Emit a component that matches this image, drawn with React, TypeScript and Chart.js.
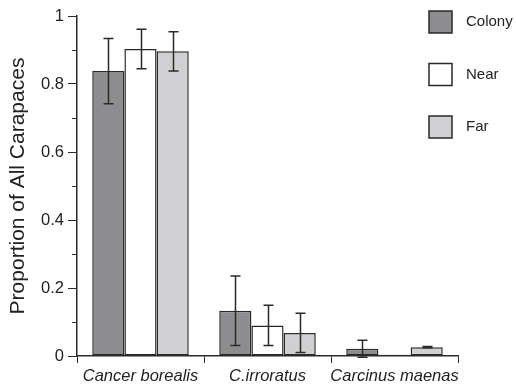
import React, { useEffect, useRef } from "react";
import { Chart, registerables } from "chart.js";

Chart.register(...registerables);

const categories = ["Cancer borealis", "C.irroratus", "Carcinus maenas"];
const seriesNames = ["Colony", "Near", "Far"];
const colonyValues = [0.838, 0.133, 0.021];
const colonyErrors = [0.096, 0.102, 0.025];
const nearValues = [0.903, 0.09, 0.004];
const nearErrors = [0.058, 0.059, 0];
const farValues = [0.896, 0.068, 0.026];
const farErrors = [0.058, 0.058, 0.002];
const yTickValues = [0, 0.2, 0.4, 0.6, 0.8, 1];
const yMinorTicks = [0.1, 0.3, 0.5, 0.7, 0.9];
const yTitle = "Proportion of All Carapaces";

const FONT = "'Liberation Sans', Arial, Helvetica, sans-serif";
const INK = "#2a2a2a";

const errorBarPlugin = {
  id: "errorBars",
  afterDatasetsDraw(chart: any) {
    const ctx = chart.ctx;
    const y = chart.scales.y;
    ctx.save();
    ctx.strokeStyle = INK;
    ctx.lineWidth = 1.5;
    chart.data.datasets.forEach((ds: any, i: number) => {
      const meta = chart.getDatasetMeta(i);
      meta.data.forEach((bar: any, j: number) => {
        const v = ds.data[j];
        const e = ds.errors[j];
        if (!e) return;
        const top = y.getPixelForValue(v + e);
        const bot = y.getPixelForValue(v - e);
        const cx = Math.round(bar.x) + 0.5;
        ctx.beginPath();
        ctx.moveTo(cx, top);
        ctx.lineTo(cx, bot);
        ctx.moveTo(cx - 5, top);
        ctx.lineTo(cx + 5, top);
        ctx.moveTo(cx - 5, bot);
        ctx.lineTo(cx + 5, bot);
        ctx.stroke();
      });
    });
    ctx.restore();
  },
};

const minorTickPlugin = {
  id: "minorTicks",
  afterDraw(chart: any) {
    const ctx = chart.ctx;
    const y = chart.scales.y;
    const x0 = chart.chartArea.left;
    ctx.save();
    ctx.strokeStyle = INK;
    ctx.lineWidth = 1;
    yMinorTicks.forEach((v) => {
      const py = Math.round(y.getPixelForValue(v)) + 0.5;
      ctx.beginPath();
      ctx.moveTo(x0 - 5, py);
      ctx.lineTo(x0, py);
      ctx.stroke();
    });
    ctx.restore();
  },
};

const legendPlugin = {
  id: "customLegend",
  afterDraw(chart: any) {
    const ctx = chart.ctx;
    ctx.save();
    ctx.font = `15px ${FONT}`;
    ctx.textBaseline = "middle";
    ctx.textAlign = "left";
    chart.data.datasets.forEach((ds: any, i: number) => {
      const bx = 429;
      const by = 11 + i * 52.5;
      ctx.fillStyle = ds.backgroundColor;
      ctx.fillRect(bx, by, 23, 22);
      ctx.strokeStyle = INK;
      ctx.lineWidth = 1.5;
      ctx.strokeRect(bx, by, 23, 22);
      ctx.fillStyle = "#222";
      ctx.fillText(ds.label, 466, by + 11);
    });
    ctx.restore();
  },
};

export default function App() {
  const ref = useRef<HTMLCanvasElement>(null);
  useEffect(() => {
    const colors = ["#8d8d90", "#ffffff", "#d0d0d2"];
    const values = [colonyValues, nearValues, farValues];
    const errors = [colonyErrors, nearErrors, farErrors];
    const chart = new Chart(ref.current as HTMLCanvasElement, {
      type: "bar",
      data: {
        labels: categories,
        datasets: seriesNames.map((name, i) => ({
          label: name,
          data: values[i],
          errors: errors[i],
          backgroundColor: colors[i],
          borderColor: INK,
          borderWidth: 1.5,
          borderSkipped: false,
          categoryPercentage: 0.76,
          barPercentage: 1,
        })) as any,
      },
      options: {
        animation: false,
        responsive: false,
        layout: { padding: { left: 0, right: 58, top: 16, bottom: 0 } },
        plugins: {
          legend: { display: false },
          tooltip: { enabled: false },
        },
        scales: {
          x: {
            offset: true,
            grid: {
              offset: true,
              drawOnChartArea: false,
              drawTicks: true,
              tickLength: 7,
              color: INK,
              lineWidth: 1,
            },
            border: { display: true, color: INK, width: 1.5 },
            ticks: {
              color: "#222",
              padding: 4,
              font: { family: FONT, size: 16.5, style: "italic" },
              maxRotation: 0,
              autoSkip: false,
            },
            afterFit: (s: any) => {
              s.height = 30;
            },
          },
          y: {
            min: 0,
            max: 1,
            afterBuildTicks: (s: any) => {
              s.ticks = yTickValues.map((v) => ({ value: v }));
            },
            grid: {
              drawOnChartArea: false,
              drawTicks: true,
              tickLength: 9,
              color: INK,
              lineWidth: 1,
            },
            border: { display: true, color: INK, width: 1.5 },
            ticks: {
              color: "#222",
              padding: 4,
              font: { family: FONT, size: 16.5 },
              callback: (v: any) => String(Math.round(Number(v) * 10) / 10),
            },
            title: {
              display: true,
              text: yTitle,
              color: "#222",
              font: { family: FONT, size: 21 },
              padding: { top: 6, bottom: 0 },
            },
            afterFit: (s: any) => {
              s.width = 77;
            },
          },
        },
      },
      plugins: [errorBarPlugin, minorTickPlugin, legendPlugin],
    } as any);
    return () => chart.destroy();
  }, []);
  return (
    <div style={{ position: "fixed", left: 0, top: 0, width: 516, height: 386, background: "#fff" }}>
      <canvas ref={ref} width={516} height={386} style={{ display: "block" }} />
    </div>
  );
}
